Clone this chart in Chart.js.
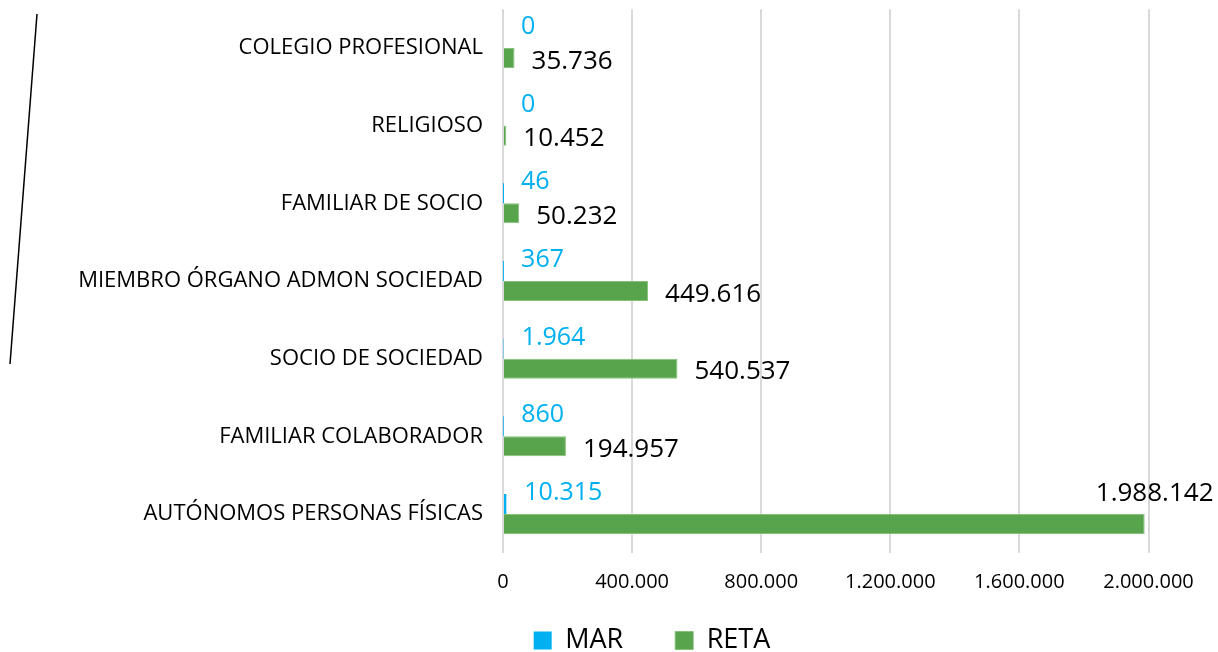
<!DOCTYPE html>
<html>
<head>
<meta charset="utf-8">
<script src="https://cdn.jsdelivr.net/npm/chart.js@4"></script>
<style>
  html, body { margin: 0; padding: 0; background: #ffffff; }
  #wrap { width: 1218px; height: 652px; position: relative; }
</style>
</head>
<body>
<div id="wrap"><canvas id="c"></canvas></div>
<script>
// ---- data ----
const categories = [
  'COLEGIO PROFESIONAL',
  'RELIGIOSO',
  'FAMILIAR DE SOCIO',
  'MIEMBRO ÓRGANO ADMON SOCIEDAD',
  'SOCIO DE SOCIEDAD',
  'FAMILIAR COLABORADOR',
  'AUTÓNOMOS PERSONAS FÍSICAS'
];
const marValues  = [0, 0, 46, 367, 1964, 860, 10315];
const retaValues = [35736, 10452, 50232, 449616, 540537, 194957, 1988142];
const seriesNames = ['MAR', 'RETA'];
const xTickValues = [0, 400000, 800000, 1200000, 1600000, 2000000];

// ---- helpers ----
const FONT = "'Open Sans', 'Noto Sans', sans-serif";
function fmt(v) {
  return String(Math.round(v)).replace(/\B(?=(\d{3})+(?!\d))/g, '.');
}

const valueLabels = {
  id: 'valueLabels',
  afterDatasetsDraw(chart) {
    const ctx = chart.ctx;
    const W = chart.width;
    ctx.save();
    chart.data.datasets.forEach((ds, di) => {
      const meta = chart.getDatasetMeta(di);
      const isMar = di === 0;
      const size = isMar ? 25 : 26;
      ctx.font = size + 'px ' + FONT;
      ctx.fillStyle = isMar ? '#00B0F0' : '#000000';
      ctx.textBaseline = 'alphabetic';
      meta.data.forEach((bar, i) => {
        const txt = fmt(ds.data[i]);
        const w = ctx.measureText(txt).width;
        const asc = 0.357 * size;
        if (isMar) {
          ctx.textAlign = 'left';
          ctx.fillText(txt, bar.x + 18, bar.y - 13 + asc);
        } else {
          if (bar.x + 17 + w > W) {
            ctx.textAlign = 'center';
            ctx.fillText(txt, bar.x + 10, bar.y - 32 + asc);
          } else {
            ctx.textAlign = 'left';
            ctx.fillText(txt, bar.x + 17, bar.y + 1.5 + asc);
          }
        }
      });
    });
    ctx.restore();
  }
};

// place the legend row under the axis (library still draws it)
const legendPlace = {
  id: 'legendPlace',
  afterLayout(chart) {
    const lg = chart.legend;
    if (!lg) return;
    const h = 27 + lg.options.labels.padding + 10;
    const bottom = 664;
    lg.top = bottom - h;
    lg.bottom = bottom;
    lg.height = h;
    const center = 652;
    const half = (lg.right - lg.left) / 2;
    lg.left = center - half;
    lg.right = center + half;
  }
};

const sideRule = {
  id: 'sideRule',
  afterDraw(chart) {
    const ctx = chart.ctx;
    ctx.save();
    ctx.strokeStyle = '#000000';
    ctx.lineWidth = 1.5;
    ctx.beginPath();
    ctx.moveTo(37, 14);
    ctx.lineTo(10, 364);
    ctx.stroke();
    ctx.restore();
  }
};

new Chart(document.getElementById('c'), {
  type: 'bar',
  data: {
    labels: categories,
    datasets: [
      {
        label: seriesNames[0],
        data: marValues,
        backgroundColor: '#00B0F0',
        borderWidth: 0,
        inflateAmount: 0,
        categoryPercentage: 0.515,
        barPercentage: 1.0
      },
      {
        label: seriesNames[1],
        data: retaValues,
        backgroundColor: '#57A44C',
        borderColor: '#86C07A',
        borderWidth: 1,
        categoryPercentage: 0.515,
        barPercentage: 1.0
      }
    ]
  },
  options: {
    indexAxis: 'y',
    responsive: true,
    maintainAspectRatio: false,
    animation: false,
    layout: { padding: { top: 9.2, right: 69.5, left: 40, bottom: 56.2 } },
    scales: {
      x: {
        min: 0,
        max: 2000000,
        afterBuildTicks(scale) { scale.ticks = xTickValues.map(v => ({ value: v })); },
        afterFit(scale) { scale.height = 42; },
        grid: { color: '#d9d9d9', lineWidth: 2, drawTicks: false },
        border: { display: false },
        ticks: {
          padding: 17,
          color: '#000000',
          font: { family: FONT, size: 20 },
          callback: (v) => fmt(v),
          maxRotation: 0,
          autoSkip: false
        }
      },
      y: {
        afterFit(scale) {
          scale.width = 463;
          scale.paddingTop = 0;
          scale.paddingBottom = 0;
        },
        grid: { display: false, drawTicks: false },
        border: { display: false },
        ticks: {
          padding: 20,
          color: '#000000',
          font: { family: FONT, size: 22 },
          autoSkip: false
        }
      }
    },
    plugins: {
      legend: {
        position: 'bottom',
        maxHeight: 1,
        labels: {
          boxWidth: 18,
          boxHeight: 18,
          padding: 52,
          color: '#000000',
          font: { family: FONT, size: 27 }
        }
      },
      tooltip: { enabled: false }
    }
  },
  plugins: [valueLabels, legendPlace, sideRule]
});
</script>
</body>
</html>
